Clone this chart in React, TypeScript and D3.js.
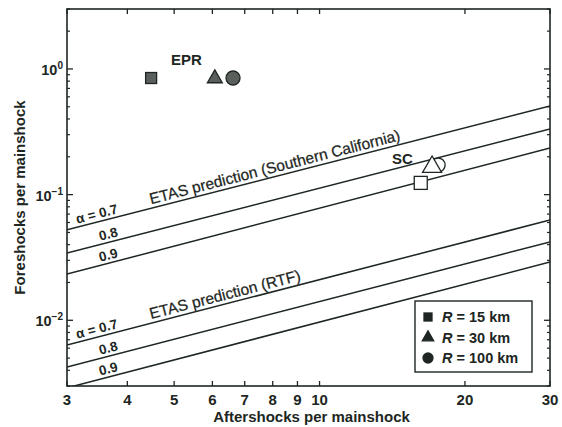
import React from "react";
import * as d3 from "d3";

const W = 562;
const H = 427;
const margin = { left: 67, top: 9, right: 12, bottom: 41 };

const xDomain = [3, 30];
const yDomain = [0.003, 3];
const xTicks = [3, 4, 5, 6, 7, 8, 9, 10, 20, 30];
const yMajorTicks = [1, 0.1, 0.01];
const yMajorExps = ["0", "\u22121", "\u22122"];

// ETAS prediction lines: foreshocks per mainshock at aftershocks = 3 and 30
const lineX = [3, 30];
const alphaLabels = ["\u03b1 = 0.7", "0.8", "0.9"];
const scLineY = [
  [0.0524, 0.507],
  [0.0343, 0.333],
  [0.0233, 0.235],
];
const rtfLineY = [
  [0.00636, 0.0628],
  [0.00425, 0.042],
  [0.0029, 0.0291],
];

// data points: square R=15, triangle R=30, circle R=100
const eprX = [4.48, 6.07, 6.62];
const eprY = [0.847, 0.84, 0.847];
const scX = [16.2, 17.1, 17.6];
const scY = [0.124, 0.166, 0.172];
const legendLabels = ["15 km", "30 km", "100 km"];

const FONT = "'Liberation Sans', Arial, Helvetica, sans-serif";
const INK = "#1d2622";

function Marker({ type, cx, cy, k, fill, stroke }: any) {
  if (type === 0) {
    return <rect x={cx - k} y={cy - k} width={2 * k} height={2 * k} fill={fill} stroke={stroke} strokeWidth={1.3} />;
  }
  if (type === 1) {
    const h = 3 * k;
    const w = h / 0.866 / 2;
    const pts = `${cx},${cy - 2 * k} ${cx - w},${cy + k} ${cx + w},${cy + k}`;
    return <polygon points={pts} fill={fill} stroke={stroke} strokeWidth={1.3} />;
  }
  return <circle cx={cx} cy={cy} r={k} fill={fill} stroke={stroke} strokeWidth={1.3} />;
}

export default function App() {
  const x = d3.scaleLog().domain(xDomain).range([margin.left, W - margin.right]);
  const y = d3.scaleLog().domain(yDomain).range([H - margin.bottom, margin.top]);
  const x0 = margin.left, x1 = W - margin.right, y0 = H - margin.bottom, y1 = margin.top;

  const lineGen = d3.line<number>().x((_, i) => x(lineX[i])).y((d) => y(d));

  // minor y ticks
  const yMinor: number[] = [];
  for (let e = -3; e <= 0; e++) {
    for (let m = 2; m <= 9; m++) {
      const v = m * Math.pow(10, e);
      if (v >= yDomain[0] * 0.999 && v <= yDomain[1] * 1.001) yMinor.push(v);
    }
  }

  const angleOf = (ys: number[]) => {
    const dx = x(lineX[1]) - x(lineX[0]);
    const dy = y(ys[1]) - y(ys[0]);
    return (Math.atan2(dy, dx) * 180) / Math.PI;
  };
  const lineAt = (ys: number[], xv: number) => {
    const t = (Math.log(xv) - Math.log(lineX[0])) / (Math.log(lineX[1]) - Math.log(lineX[0]));
    return Math.exp(Math.log(ys[0]) + t * (Math.log(ys[1]) - Math.log(ys[0])));
  };

  const alphaLabelX = 3.85;
  const titleX = 4.5;

  const renderLineGroup = (lines: number[][], title: string, key: string) => (
    <g key={key}>
      {lines.map((ys, i) => (
        <path key={i} d={lineGen(ys) || ""} fill="none" stroke={INK} strokeWidth={1.5} />
      ))}
      {lines.map((ys, i) => {
        const px = x(alphaLabelX);
        const py = y(lineAt(ys, alphaLabelX));
        return (
          <text key={"l" + i} x={px} y={py - 3.5} textAnchor="end" fontSize={13.5} fontFamily={FONT} fontWeight="bold" fill={INK}
            transform={`rotate(${angleOf(ys)},${px},${py})`}>
            {alphaLabels[i]}
          </text>
        );
      })}
      {(() => {
        const ys = lines[0];
        const px = x(titleX);
        const py = y(lineAt(ys, titleX));
        return (
          <text x={px} y={py - 4} fontSize={15.5} fontFamily={FONT} fill={INK} stroke={INK} strokeWidth={0.25}
            transform={`rotate(${angleOf(ys)},${px},${py})`}>
            {title}
          </text>
        );
      })()}
    </g>
  );

  return (
    <svg width={W} height={H} style={{ position: "absolute", left: 0, top: 0, background: "#fff" }}>
      <defs>
        <clipPath id="plot">
          <rect x={x0} y={y1} width={x1 - x0} height={y0 - y1} />
        </clipPath>
      </defs>
      <rect x={0} y={0} width={W} height={H} fill="#fff" />
      <g clipPath="url(#plot)">
        {renderLineGroup(scLineY, "ETAS prediction (Southern California)", "sc")}
        {renderLineGroup(rtfLineY, "ETAS prediction (RTF)", "rtf")}
      </g>

      {/* frame */}
      <rect x={x0} y={y1} width={x1 - x0} height={y0 - y1} fill="none" stroke={INK} strokeWidth={1.6} />

      {/* x ticks */}
      {xTicks.map((t) => (
        <g key={"xt" + t}>
          <line x1={x(t)} x2={x(t)} y1={y0} y2={y0 - 5} stroke={INK} strokeWidth={1.3} />
          <line x1={x(t)} x2={x(t)} y1={y1} y2={y1 + 5} stroke={INK} strokeWidth={1.3} />
          <text x={x(t)} y={y0 + 19} textAnchor="middle" fontSize={15} fontFamily={FONT} fontWeight="bold" fill={INK}>
            {t}
          </text>
        </g>
      ))}

      {/* y ticks */}
      {yMinor.map((t) => (
        <g key={"ym" + t}>
          <line x1={x0} x2={x0 + 3} y1={y(t)} y2={y(t)} stroke={INK} strokeWidth={1.2} />
          <line x1={x1} x2={x1 - 3} y1={y(t)} y2={y(t)} stroke={INK} strokeWidth={1.2} />
        </g>
      ))}
      {yMajorTicks.map((t, i) => (
        <g key={"yM" + t}>
          <line x1={x0} x2={x0 + 6} y1={y(t)} y2={y(t)} stroke={INK} strokeWidth={1.3} />
          <line x1={x1} x2={x1 - 6} y1={y(t)} y2={y(t)} stroke={INK} strokeWidth={1.3} />
          <text x={x0 - 4} y={y(t) + 6} textAnchor="end" fontSize={14.5} fontFamily={FONT} fontWeight="bold" fill={INK}>
            10
            <tspan dy={-6} fontSize={10}>{yMajorExps[i]}</tspan>
          </text>
        </g>
      ))}

      {/* axis titles */}
      <text x={(x0 + x1) / 2 + 3} y={H - 5} textAnchor="middle" fontSize={15} fontFamily={FONT} fontWeight="bold" fill={INK}>
        Aftershocks per mainshock
      </text>
      <text x={25} y={(y0 + y1) / 2} textAnchor="middle" fontSize={15} fontFamily={FONT} fontWeight="bold" fill={INK}
        transform={`rotate(-90,25,${(y0 + y1) / 2})`}>
        Foreshocks per mainshock
      </text>

      {/* EPR points */}
      {[0, 2, 1].map((i) => (
        <Marker key={"e" + i} type={i} cx={x(eprX[i])} cy={y(eprY[i])} k={i === 0 ? 5.5 : i === 1 ? 4.3 : 7} fill="#5a5f5c" stroke={INK} />
      ))}
      <text x={x(5.3)} y={y(eprY[0]) - 13} textAnchor="middle" fontSize={15} fontFamily={FONT} fontWeight="bold" fill={INK}>EPR</text>

      {/* SC points */}
      {[0, 2, 1].map((i) => (
        <Marker key={"s" + i} type={i} cx={x(scX[i])} cy={y(scY[i])} k={i === 0 ? 6.5 : i === 1 ? 5.5 : 7} fill="#fff" stroke={INK} />
      ))}
      <text x={x(14.85)} y={y(scY[2]) - 1} textAnchor="middle" fontSize={15} fontFamily={FONT} fontWeight="bold" fill={INK}>SC</text>

      {/* legend */}
      <g>
        <rect x={415} y={301} width={117} height={71} fill="#fff" stroke={INK} strokeWidth={1.4} />
        {legendLabels.map((lab, i) => {
          const cy = 317 + i * 20.5;
          return (
            <g key={"lg" + i}>
              <Marker type={i} cx={428} cy={cy} k={i === 0 ? 4 : i === 1 ? 3.3 : 5} fill={INK} stroke={INK} />
              <text x={442} y={cy + 5} fontSize={14.5} fontFamily={FONT} fontWeight="bold" fill={INK}>
                <tspan fontStyle="italic">R</tspan> = {lab}
              </text>
            </g>
          );
        })}
      </g>
    </svg>
  );
}
